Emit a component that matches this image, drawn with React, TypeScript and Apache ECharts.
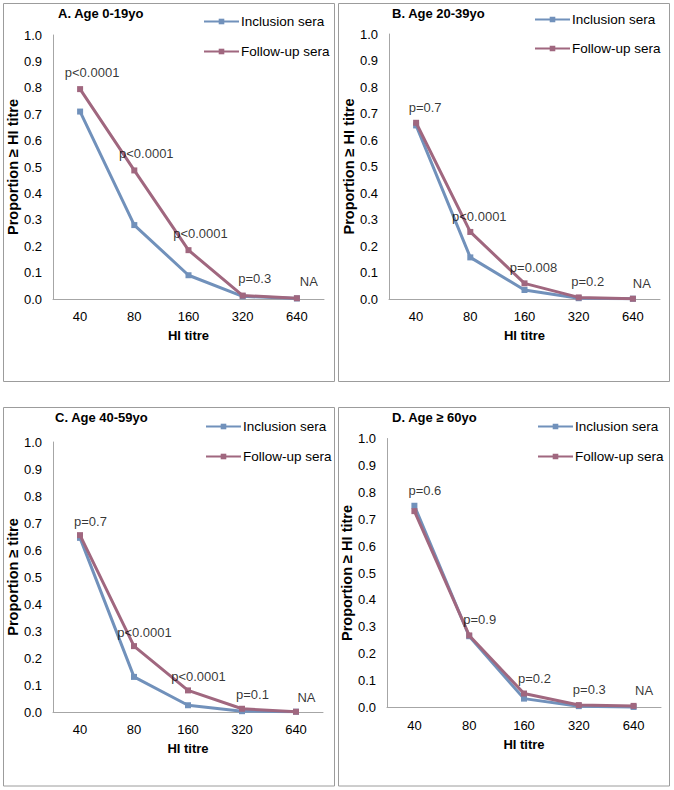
import React, { useEffect, useRef } from "react";
import * as echarts from "echarts";

const categories = ["40", "80", "160", "320", "640"];

const inclusionA = [0.71, 0.28, 0.09, 0.01, 0.002];
const followupA = [0.795, 0.487, 0.185, 0.013, 0.003];
const pLabelsA = ["p<0.0001", "p<0.0001", "p<0.0001", "p=0.3", "NA"];

const inclusionB = [0.655, 0.157, 0.034, 0.003, 0.001];
const followupB = [0.665, 0.253, 0.059, 0.006, 0.001];
const pLabelsB = ["p=0.7", "p<0.0001", "p=0.008", "p=0.2", "NA"];

const inclusionC = [0.645, 0.13, 0.025, 0.003, 0.001];
const followupC = [0.655, 0.244, 0.08, 0.012, 0.001];
const pLabelsC = ["p=0.7", "p<0.0001", "p<0.0001", "p=0.1", "NA"];

const inclusionD = [0.75, 0.265, 0.033, 0.005, 0.002];
const followupD = [0.73, 0.268, 0.052, 0.009, 0.006];
const pLabelsD = ["p=0.6", "p=0.9", "p=0.2", "p=0.3", "NA"];

const panelTitles = ["A. Age 0-19yo", "B. Age 20-39yo", "C. Age 40-59yo", "D. Age \u2265 60yo"];
const yNames = ["Proportion \u2265 HI titre", "Proportion \u2265 HI titre", "Proportion \u2265 titre", "Proportion \u2265 HI titre"];
const xName = "HI titre";
const seriesNames = ["Inclusion sera", "Follow-up sera"];

const panels = [
  { inc: inclusionA, fu: followupA, labels: pLabelsA },
  { inc: inclusionB, fu: followupB, labels: pLabelsB },
  { inc: inclusionC, fu: followupC, labels: pLabelsC },
  { inc: inclusionD, fu: followupD, labels: pLabelsD },
];

// layout (pixels)
const layout = [
  { box: [3.5, 3.5, 331, 378], grid: { left: 53, top: 35, width: 271, height: 264 }, title: [58, 7], legend: [203, 20, 50], lab: { dx: 12, dist: 10 } },
  { box: [338.5, 3.5, 331, 378], grid: { left: 389, top: 34, width: 271, height: 265 }, title: [392, 7], legend: [534, 18, 47], lab: { dx: 9, dist: 8.5 } },
  { box: [3.5, 407.5, 331, 378.5], grid: { left: 53, top: 442, width: 270, height: 270 }, title: [55, 411], legend: [205, 425, 455], lab: { dx: 10.5, dist: 7 } },
  { box: [338.5, 407.5, 331, 378.5], grid: { left: 387, top: 438.5, width: 274, height: 269 }, title: [392, 411], legend: [537, 425, 455], lab: { dx: 10.5, dist: 8.5 } },
];

const FONT = "Liberation Sans, Arial, sans-serif";
const BLUE = "#7191bb";
const MAUVE = "#a0677f";

export default function App() {
  const ref = useRef<HTMLDivElement>(null);
  useEffect(() => {
    if (!ref.current) return;
    const chart = echarts.init(ref.current, null, { renderer: "svg" });
    const grid: any[] = [];
    const xAxis: any[] = [];
    const yAxis: any[] = [];
    const series: any[] = [];
    const title: any[] = [];
    const legend: any[] = [];
    const graphic: any[] = [];

    panels.forEach((p, i) => {
      const L = layout[i];
      graphic.push({
        type: "rect",
        shape: { x: L.box[0], y: L.box[1], width: L.box[2], height: L.box[3] },
        style: { fill: "none", stroke: "#9c9c9c", lineWidth: 1 },
        z: -1,
      });
      grid.push({ ...L.grid, containLabel: false });
      xAxis.push({
        type: "category",
        gridIndex: i,
        data: categories,
        boundaryGap: true,
        axisLine: { show: true, lineStyle: { color: "#a6a6a6", width: 1 } },
        axisTick: { show: false },
        axisLabel: { color: "#000", fontSize: 13, fontFamily: FONT, margin: 11 },
        name: xName,
        nameLocation: "middle",
        nameGap: 30,
        nameTextStyle: { color: "#000", fontSize: 13, fontWeight: "bold", fontFamily: FONT },
        splitLine: { show: false },
      });
      yAxis.push({
        type: "value",
        gridIndex: i,
        min: 0,
        max: 1,
        interval: 0.1,
        axisLine: { show: true, lineStyle: { color: "#a6a6a6", width: 1 } },
        axisTick: { show: false },
        splitLine: { show: false },
        axisLabel: {
          color: "#000",
          fontSize: 13,
          fontFamily: FONT,
          margin: 11,
          formatter: (v: number) => v.toFixed(1),
        },
        name: yNames[i],
        nameLocation: "middle",
        nameGap: 30,
        nameTextStyle: { color: "#000", fontSize: 14.5, fontWeight: "bold", fontFamily: FONT },
      });
      series.push({
        name: seriesNames[0],
        type: "line",
        xAxisIndex: i,
        yAxisIndex: i,
        data: p.inc,
        symbol: "rect",
        symbolSize: 6,
        showAllSymbol: true,
        lineStyle: { color: BLUE, width: 3 },
        itemStyle: { color: BLUE },
        z: 3,
      });
      series.push({
        name: seriesNames[1],
        type: "line",
        xAxisIndex: i,
        yAxisIndex: i,
        data: p.fu,
        symbol: "rect",
        symbolSize: 6,
        showAllSymbol: true,
        lineStyle: { color: MAUVE, width: 3 },
        itemStyle: { color: MAUVE },
        z: 4,
      });
      series.push({
        name: "pvalues" + i,
        type: "scatter",
        xAxisIndex: i,
        yAxisIndex: i,
        silent: true,
        symbolSize: 1,
        itemStyle: { color: "rgba(0,0,0,0)" },
        data: p.labels.map((t, k) => Math.max(p.inc[k], p.fu[k])),
        label: {
          show: true,
          position: "top",
          distance: L.lab.dist,
          offset: [L.lab.dx, 0],
          color: "#000",
          fontSize: 13,
          fontFamily: FONT,
          formatter: (params: any) => p.labels[params.dataIndex],
        },
        z: 5,
      });
      title.push({
        text: panelTitles[i],
        left: L.title[0],
        top: L.title[1],
        padding: 0,
        textStyle: { color: "#000", fontSize: 13, fontWeight: "bold", fontFamily: FONT },
      });
      [0, 1].forEach((k) => {
        legend.push({
          data: [seriesNames[k]],
          left: L.legend[0],
          top: L.legend[1 + k] - 5.5,
          padding: 0,
          itemWidth: 35,
          itemHeight: 7,
          selectedMode: false,
          textStyle: { color: "#000", fontSize: 13.5, fontFamily: FONT, padding: [0, 0, 0, -3] },
        });
      });
    });

    chart.setOption({
      animation: false,
      backgroundColor: "#fff",
      grid,
      xAxis,
      yAxis,
      series,
      title,
      legend,
      graphic,
    });
    return () => chart.dispose();
  }, []);
  return <div ref={ref} style={{ position: "absolute", left: 0, top: 0, width: 674, height: 790 }} />;
}
